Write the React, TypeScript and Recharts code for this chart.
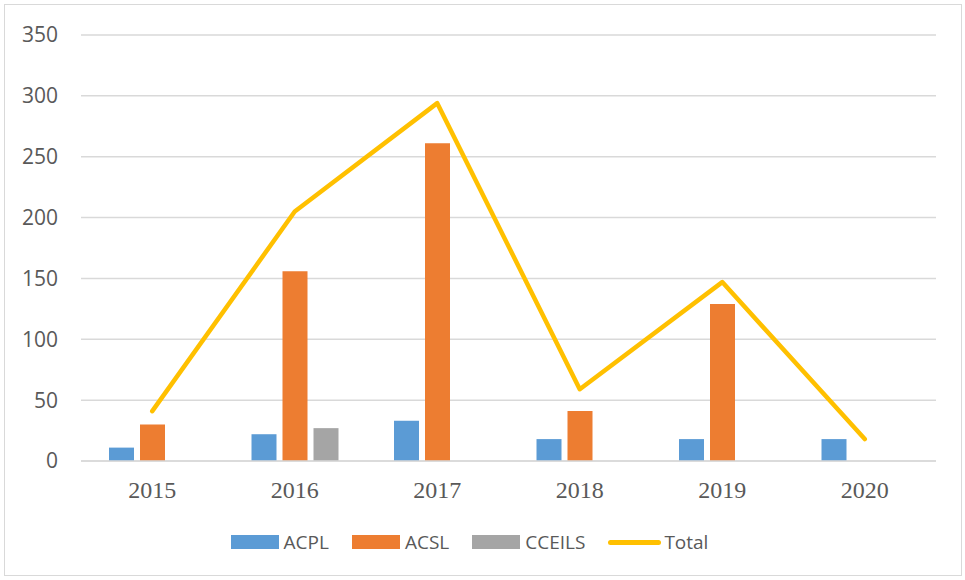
import React from "react";
import { ComposedChart, Bar, Line, XAxis, YAxis, CartesianGrid, Legend } from "recharts";

const years = ["2015", "2016", "2017", "2018", "2019", "2020"];
const acpl = [11, 22, 33, 18, 18, 18];
const acsl = [30, 156, 261, 41, 129, null];
const cceils = [null, 27, null, null, null, null];
const total = [41, 205, 294, 59, 147, 18];
const yTicks = [0, 50, 100, 150, 200, 250, 300, 350];

const data = years.map((y, i) => ({
  year: y,
  ACPL: acpl[i],
  ACSL: acsl[i],
  CCEILS: cceils[i],
  Total: total[i],
}));

const legendItems = [
  { name: "ACPL", color: "#5B9BD5", type: "rect" },
  { name: "ACSL", color: "#ED7D31", type: "rect" },
  { name: "CCEILS", color: "#A5A5A5", type: "rect" },
  { name: "Total", color: "#FFC000", type: "line" },
];

const LegendContent = () => (
  <div style={{ display: "flex", justifyContent: "center", alignItems: "center", fontFamily: "'Open Sans', 'Liberation Sans', sans-serif", fontSize: 19, color: "#595959", paddingRight: 26 }}>
    {legendItems.map((it, i) => (
      <div key={it.name} style={{ display: "flex", alignItems: "center", marginRight: i === legendItems.length - 1 ? 0 : 23 }}>
        {it.type === "rect" ? (
          <div style={{ width: 48, height: 14, background: it.color, marginRight: 5 }} />
        ) : (
          <div style={{ width: 53, height: 5, borderRadius: 3, background: it.color, marginRight: 3 }} />
        )}
        <span>{it.name}</span>
      </div>
    ))}
  </div>
);

export default function App() {
  return (
    <div style={{ position: "absolute", left: 0, top: 0, width: 965, height: 580, background: "#fff" }}>
      <div style={{ position: "absolute", left: 4, top: 4, width: 958, height: 572, border: "1.5px solid #d9d9d9", boxSizing: "border-box" }} />
      <ComposedChart
        width={965}
        height={580}
        data={data}
        margin={{ top: 35, right: 29, bottom: 79, left: 0 }}
        barSize={25}
        barGap={6}
      >
        <CartesianGrid vertical={false} stroke="#d9d9d9" strokeWidth={1.5} />
        <XAxis
          dataKey="year"
          height={40}
          axisLine={{ stroke: "#d9d9d9", strokeWidth: 1.5 }}
          tickLine={false}
          tickSize={0}
          tickMargin={20}
          tick={{ fill: "#595959", fontSize: 24, fontFamily: "'Liberation Serif', 'Times New Roman', serif" }}
        />
        <YAxis
          width={81}
          domain={[0, 350]}
          ticks={yTicks}
          axisLine={false}
          tickLine={false}
          tickSize={0}
          tickMargin={23}
          tick={{ fill: "#595959", fontSize: 21, fontFamily: "'Open Sans', 'Liberation Sans', sans-serif" }}
        />
        <Bar dataKey="ACPL" fill="#5B9BD5" isAnimationActive={false} />
        <Bar dataKey="ACSL" fill="#ED7D31" isAnimationActive={false} />
        <Bar dataKey="CCEILS" fill="#A5A5A5" isAnimationActive={false} />
        <Line
          dataKey="Total"
          type="linear"
          stroke="#FFC000"
          strokeWidth={4.5}
          strokeLinecap="round"
          strokeLinejoin="round"
          dot={false}
          activeDot={false}
          isAnimationActive={false}
        />
        <Legend
          verticalAlign="middle"
          layout="horizontal"
          content={<LegendContent />}
          wrapperStyle={{ top: 529, left: 0, width: 965, height: 32 }}
        />
      </ComposedChart>
    </div>
  );
}
